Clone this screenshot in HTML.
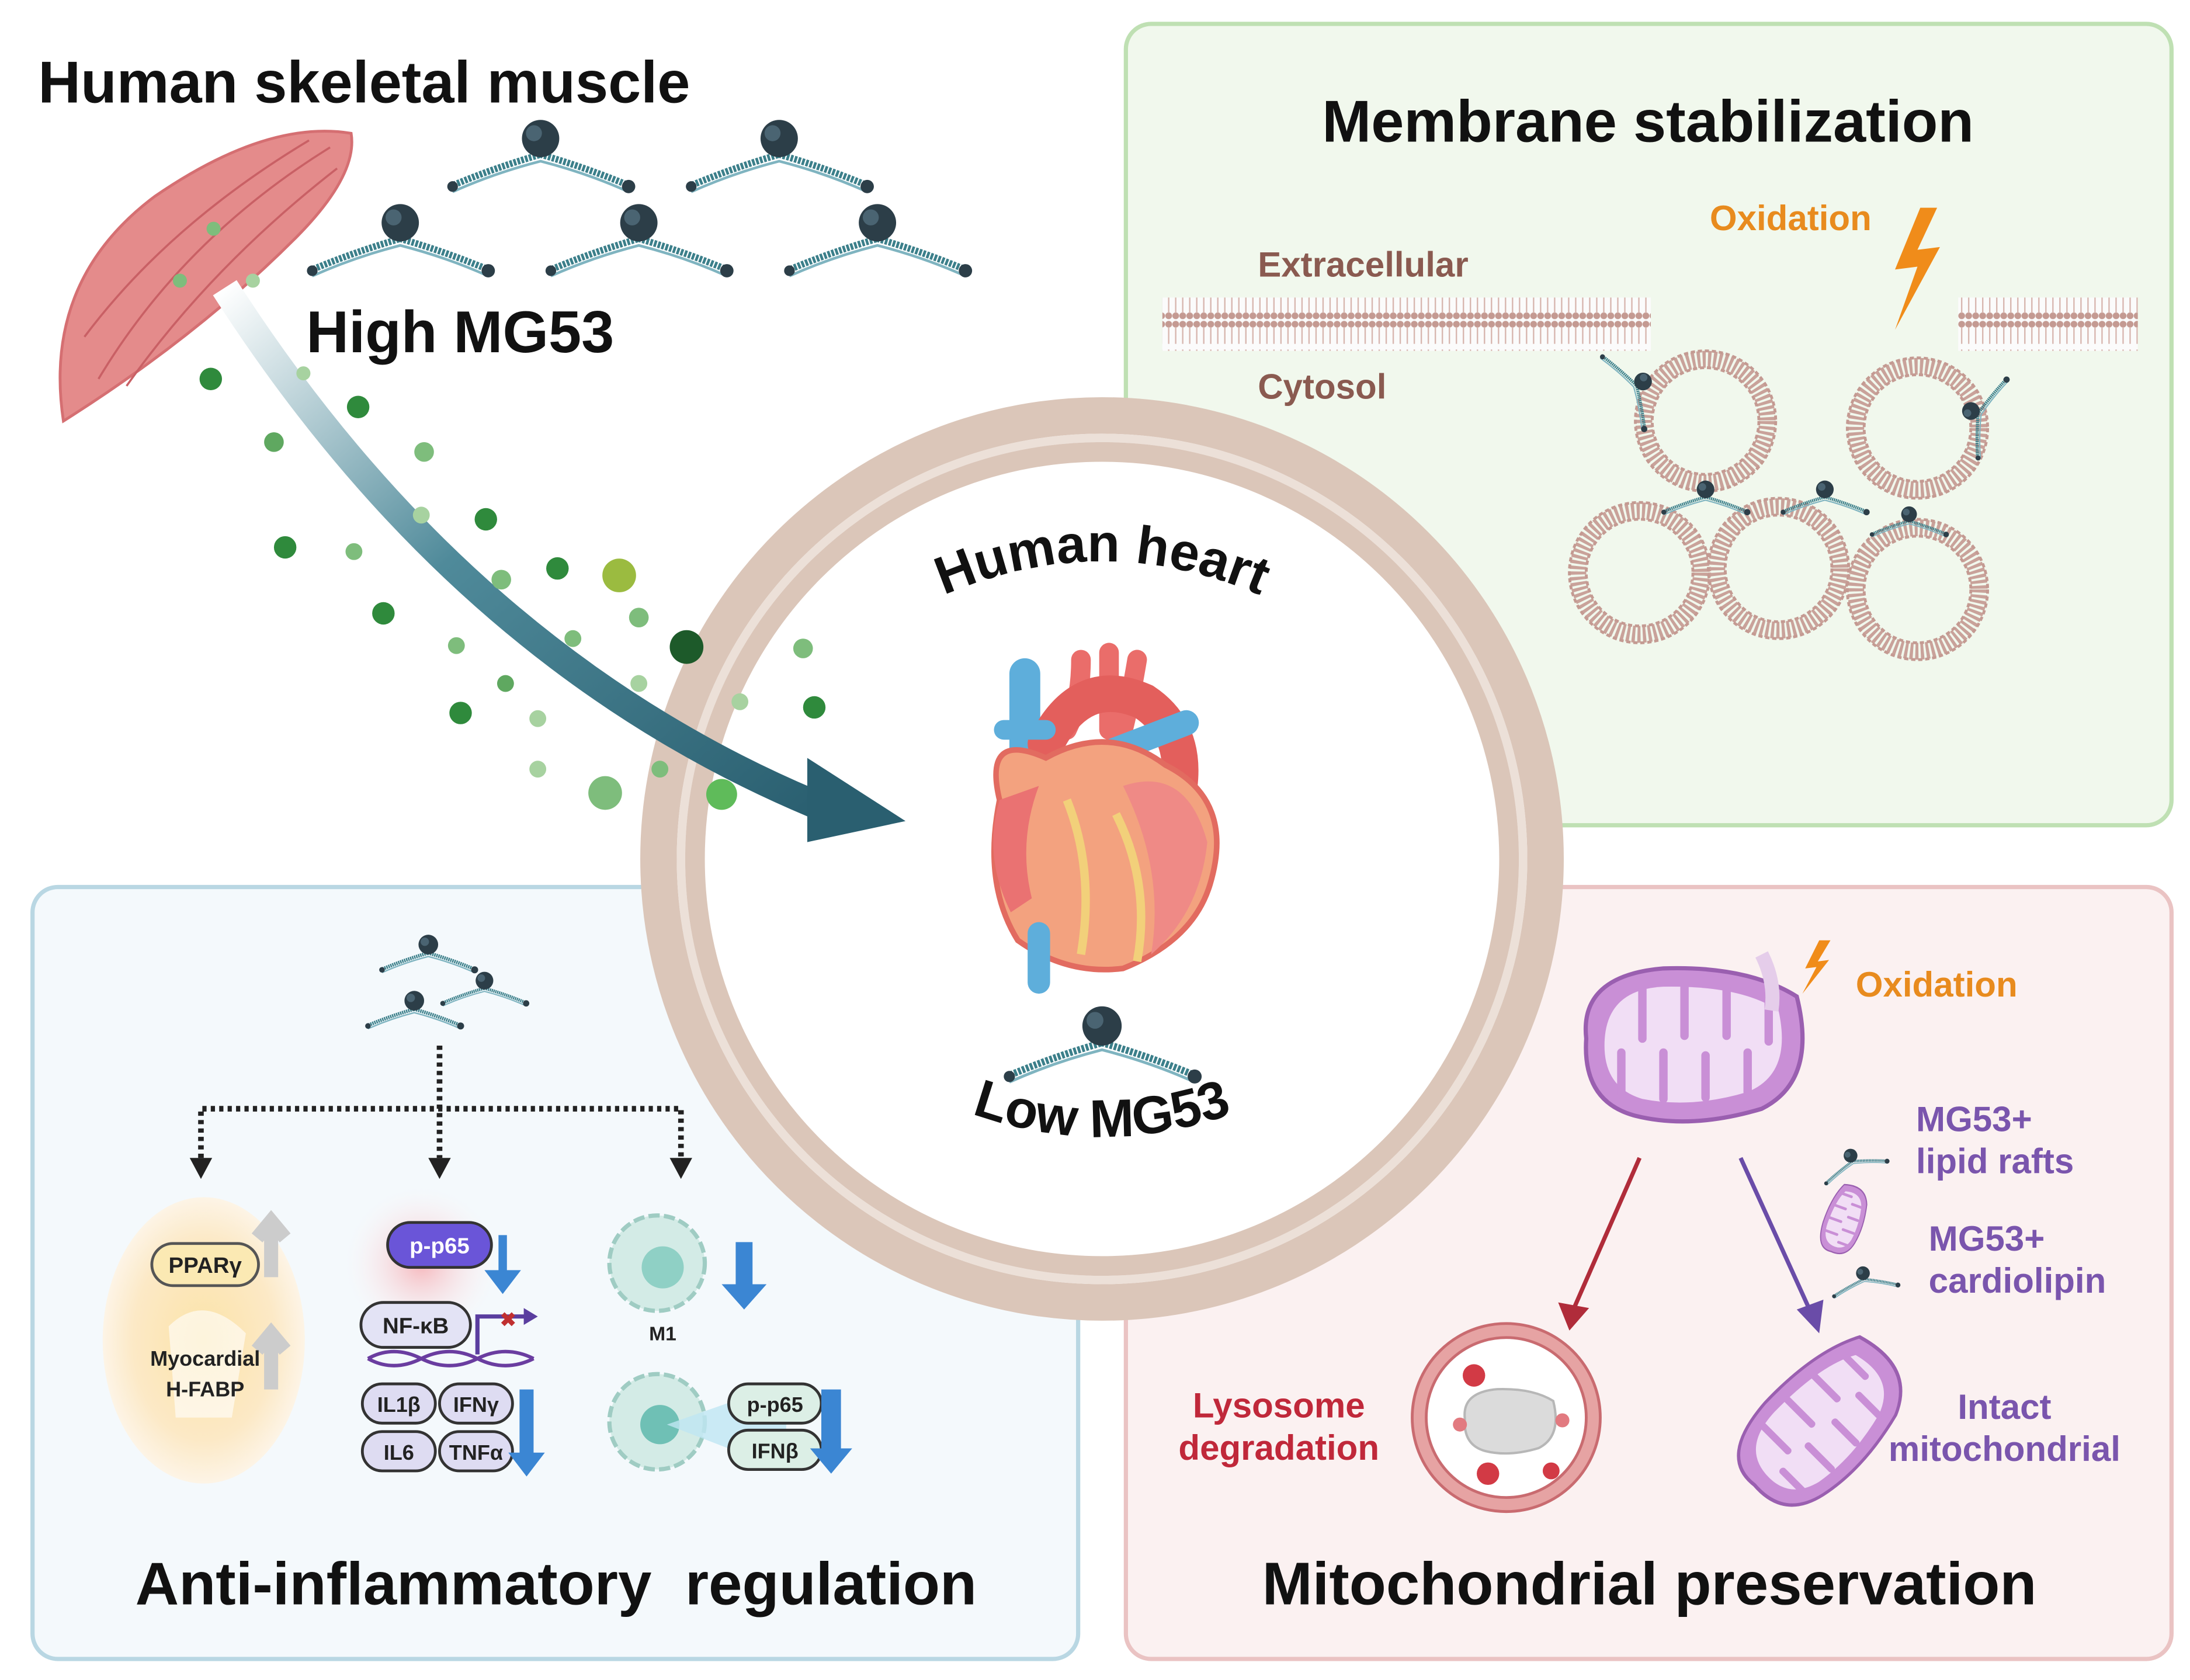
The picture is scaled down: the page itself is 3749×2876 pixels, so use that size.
<!DOCTYPE html>
<html><head><meta charset="utf-8"><style>
html,body{margin:0;padding:0;background:#fff;}
svg{display:block;}
text{font-family:"Liberation Sans",sans-serif;font-weight:bold;}
</style></head><body>
<svg width="3749" height="2876" viewBox="0 0 1560 1197" xmlns="http://www.w3.org/2000/svg">
<defs>
<pattern id="lip" width="5" height="38" patternUnits="userSpaceOnUse">
<rect width="5" height="38" fill="#fbfbfb"/>
<circle cx="2.5" cy="3" r="2.4" fill="#c49a92"/><circle cx="2.5" cy="35" r="2.4" fill="#c49a92"/>
<line x1="2.5" y1="5" x2="2.5" y2="17" stroke="#d8b7b0" stroke-width="1"/>
<line x1="2.5" y1="21" x2="2.5" y2="33" stroke="#d8b7b0" stroke-width="1"/>
</pattern>
<linearGradient id="arr" x1="0" y1="0" x2="1" y2="1">
<stop offset="0" stop-color="#ffffff"/><stop offset="0.45" stop-color="#4f8a9a"/><stop offset="1" stop-color="#2a5f70"/>
</linearGradient>
<radialGradient id="yel"><stop offset="0" stop-color="#fbe3a8"/><stop offset="0.7" stop-color="#fce9c6"/><stop offset="1" stop-color="#fdf4e6"/></radialGradient>
<radialGradient id="redg"><stop offset="0" stop-color="#f6b6bb"/><stop offset="1" stop-color="#fbf3f6" stop-opacity="0"/></radialGradient>
<g id="mg"><path d="M-68,22 Q-35,8 0,-2 Q35,8 68,22" stroke="#3b7f8a" stroke-width="5" fill="none" stroke-dasharray="2 1"/><path d="M-66,26 Q-35,12 0,3 Q35,12 66,26" stroke="#7fb4c0" stroke-width="2" fill="none"/><circle cx="0" cy="-14" r="14" fill="#2c3e48"/><circle cx="-5" cy="-18" r="6" fill="#4a6472"/><circle cx="66" cy="22" r="5" fill="#2c3e48"/><circle cx="-66" cy="22" r="4" fill="#2c3e48"/></g>
<g id="ves"><circle r="44" fill="none" stroke="#c9a29a" stroke-width="12" stroke-dasharray="2.2 1.6"/><circle r="50" fill="none" stroke="#c49a92" stroke-width="2" stroke-dasharray="3 2"/><circle r="38" fill="none" stroke="#c49a92" stroke-width="2" stroke-dasharray="3 2"/></g>
<g id="mito"><path d="M-75,-10 Q-80,-55 -20,-60 Q40,-62 75,-40 Q90,20 50,40 Q0,55 -40,45 Q-78,35 -75,-10Z" fill="#c98fd6" stroke="#9a5fb0" stroke-width="3"/><path d="M-62,-5 Q-62,-45 -20,-47 Q35,-48 62,-30 Q72,15 40,28 Q0,40 -35,33 Q-62,25 -62,-5Z" fill="#f1def5"/><path d="M-50,30 V0 M-35,-45 V-10 M-20,33 V0 M-5,-47 V-12 M10,32 V2 M25,-45 V-12 M40,28 V0 M55,-35 V-8" stroke="#c98fd6" stroke-width="6" stroke-linecap="round"/></g>
</defs>

<rect x="802" y="17" width="745" height="571" rx="18" fill="#f1f8ed" stroke="#bfe0b3" stroke-width="3"/>
<rect x="23" y="632" width="745" height="550" rx="18" fill="#f4f9fc" stroke="#b9d7e3" stroke-width="3"/>
<rect x="802" y="632" width="745" height="550" rx="18" fill="#fbf1f1" stroke="#eac3c3" stroke-width="3"/>

<text x="1174" y="101" font-size="42" text-anchor="middle" fill="#111">Membrane stabilization</text>
<text x="896" y="197" font-size="25" fill="#8a5a50">Extracellular</text>
<text x="896" y="284" font-size="25" fill="#8a5a50">Cytosol</text>
<text x="1218" y="164" font-size="25" fill="#e88b1e">Oxidation</text>
<path d="M1368,148 L1350,192 L1366,190 L1350,235 L1382,176 L1366,178 L1380,148Z" fill="#f08c1a"/>
<rect x="828" y="212" width="348" height="38" fill="url(#lip)"/>
<rect x="1395" y="212" width="128" height="38" fill="url(#lip)"/>
<use href="#ves" x="1215" y="300"/><use href="#ves" x="1366" y="305"/>
<use href="#ves" x="1168" y="408"/><use href="#ves" x="1267" y="405"/><use href="#ves" x="1366" y="420"/>
<g transform="translate(1165,275) rotate(60) scale(0.45)"><use href="#mg"/></g>
<g transform="translate(1410,295) rotate(-70) scale(0.45)"><use href="#mg"/></g>
<g transform="translate(1215,355) scale(0.45)"><use href="#mg"/></g>
<g transform="translate(1300,355) scale(0.45)"><use href="#mg"/></g>
<g transform="translate(1360,372) scale(0.4)"><use href="#mg"/></g>

<circle cx="785" cy="612" r="316" fill="#fff" stroke="#dbc6b9" stroke-width="26"/>
<circle cx="785" cy="612" r="300" fill="none" stroke="#ece0d8" stroke-width="6"/>
<circle cx="785" cy="612" r="290" fill="none" stroke="#dbc6b9" stroke-width="14"/>
<path id="arcT" d="M640,440 Q785,360 930,440" fill="none"/>
<text font-size="38" fill="#111"><textPath href="#arcT" startOffset="50%" text-anchor="middle">Human heart</textPath></text>
<path id="arcB" d="M660,780 Q785,840 910,780" fill="none"/>
<text font-size="38" fill="#111"><textPath href="#arcB" startOffset="50%" text-anchor="middle">Low MG53</textPath></text>
<g transform="translate(785,745) scale(1)"><use href="#mg"/></g>

<g>
<path d="M730,480 V560" stroke="#5eaedb" stroke-width="22" stroke-linecap="round"/>
<path d="M770,470 Q770,500 760,520 M790,465 Q790,495 790,520 M810,470 Q805,500 800,520" stroke="#ea6d6a" stroke-width="14" stroke-linecap="round" fill="none"/>
<path d="M745,530 Q770,480 815,500 Q845,520 840,560" stroke="#e35f5c" stroke-width="26" fill="none" stroke-linecap="round"/>
<path d="M780,540 L845,515" stroke="#5eaedb" stroke-width="18" stroke-linecap="round"/>
<path d="M715,520 L745,520" stroke="#5eaedb" stroke-width="14" stroke-linecap="round"/>
<path d="M712,570 Q700,520 745,540 Q790,515 830,545 Q880,570 862,630 Q850,670 800,690 Q760,695 725,670 Q700,630 712,570Z" fill="#f3a27f" stroke="#e26b60" stroke-width="4"/>
<path d="M712,570 Q700,610 720,650 L735,640 Q725,600 740,560Z" fill="#ea7272"/>
<path d="M800,560 Q845,545 860,600 Q855,650 820,680 Q830,620 800,560Z" fill="#ef8a86"/>
<path d="M760,570 Q780,620 770,680 M795,580 Q820,630 810,685" stroke="#f2d07a" stroke-width="6" fill="none"/>
<path d="M740,665 V700" stroke="#5eaedb" stroke-width="16" stroke-linecap="round"/>
</g>

<text x="27" y="73" font-size="42" fill="#111">Human skeletal muscle</text>
<path d="M45,300 Q30,200 110,140 Q190,85 250,95 Q255,125 210,170 Q140,240 45,300Z" fill="#e48b8b" stroke="#d56f72" stroke-width="2"/>
<path d="M70,270 Q130,170 235,105 M90,275 Q150,190 240,120 M60,240 Q120,160 220,100" stroke="#c96065" stroke-width="1.5" fill="none"/>
<text x="218" y="251" font-size="42" fill="#111">High MG53</text>
<g transform="translate(385,112) scale(0.95)"><use href="#mg"/></g>
<g transform="translate(555,112) scale(0.95)"><use href="#mg"/></g>
<g transform="translate(285,172) scale(0.95)"><use href="#mg"/></g>
<g transform="translate(455,172) scale(0.95)"><use href="#mg"/></g>
<g transform="translate(625,172) scale(0.95)"><use href="#mg"/></g>

<path d="M160,205 Q330,470 585,575" stroke="url(#arr)" stroke-width="20" fill="none"/>
<path d="M575,540 L645,585 L575,600Z" fill="#2a5f70"/>
<g fill="#2f8a3c">
<circle cx="150" cy="270" r="8"/><circle cx="255" cy="290" r="8"/><circle cx="195" cy="315" r="7" fill="#5fa860"/><circle cx="302" cy="322" r="7" fill="#7ebd7c"/>
<circle cx="203" cy="390" r="8"/><circle cx="346" cy="370" r="8"/><circle cx="252" cy="393" r="6" fill="#7ebd7c"/><circle cx="300" cy="367" r="6" fill="#a7d2a0"/>
<circle cx="273" cy="437" r="8"/><circle cx="357" cy="413" r="7" fill="#7ebd7c"/><circle cx="397" cy="405" r="8"/><circle cx="441" cy="410" r="12" fill="#9bbb40"/>
<circle cx="325" cy="460" r="6" fill="#7ebd7c"/><circle cx="408" cy="455" r="6" fill="#7ebd7c"/><circle cx="455" cy="440" r="7" fill="#7ebd7c"/><circle cx="489" cy="461" r="12" fill="#1d5a2a"/>
<circle cx="360" cy="487" r="6" fill="#5fa860"/><circle cx="328" cy="508" r="8"/><circle cx="383" cy="512" r="6" fill="#a7d2a0"/><circle cx="455" cy="487" r="6" fill="#a7d2a0"/>
<circle cx="527" cy="500" r="6" fill="#a7d2a0"/><circle cx="572" cy="462" r="7" fill="#7ebd7c"/><circle cx="580" cy="504" r="8"/><circle cx="383" cy="548" r="6" fill="#a7d2a0"/>
<circle cx="431" cy="565" r="12" fill="#7ebd7c"/><circle cx="470" cy="548" r="6" fill="#7ebd7c"/><circle cx="514" cy="566" r="11" fill="#5fbb5a"/>
<circle cx="128" cy="200" r="5" fill="#7ebd7c"/><circle cx="152" cy="163" r="5" fill="#7ebd7c"/><circle cx="180" cy="200" r="5" fill="#a7d2a0"/><circle cx="216" cy="266" r="5" fill="#a7d2a0"/>
</g>

<g transform="translate(305,680) scale(0.5)"><use href="#mg"/></g>
<g transform="translate(295,720) scale(0.5)"><use href="#mg"/></g>
<g transform="translate(345,705) scale(0.45)"><use href="#mg"/></g>
<g stroke="#222" stroke-width="4" stroke-dasharray="3 3" fill="none">
<path d="M313,745 V825"/><path d="M143,825 V790 H485 V825"/>
</g>
<g fill="#222"><path d="M135,825 H151 L143,840Z"/><path d="M305,825 H321 L313,840Z"/><path d="M477,825 H493 L485,840Z"/></g>
<ellipse cx="145" cy="955" rx="72" ry="102" fill="url(#yel)"/>
<path d="M120,945 Q145,920 175,950 L165,1010 L125,1010Z" fill="#fff" opacity="0.6"/>
<path d="M193,910 V870 M183,882 L193,870 L203,882" stroke="#ccc" stroke-width="10" fill="none"/>
<path d="M193,990 V950 M183,962 L193,950 L203,962" stroke="#ccc" stroke-width="10" fill="none"/>
<rect x="108" y="886" width="76" height="30" rx="15" fill="#fbe9b3" stroke="#555" stroke-width="2"/>
<text x="146" y="907" font-size="16" text-anchor="middle" fill="#222">PPARγ</text>
<text x="146" y="973" font-size="15" text-anchor="middle" fill="#222">Myocardial</text>
<text x="146" y="995" font-size="15" text-anchor="middle" fill="#222">H-FABP</text>
<circle cx="300" cy="900" r="55" fill="url(#redg)"/>
<rect x="276" y="871" width="74" height="32" rx="16" fill="#6a55d8" stroke="#333" stroke-width="2"/>
<text x="313" y="893" font-size="16" text-anchor="middle" fill="#fff">p-p65</text>
<path d="M355,880 V905 H345 L358,922 L371,905 H361 V880Z" fill="#3b86d3"/>
<rect x="257" y="928" width="78" height="32" rx="16" fill="#e3e3f5" stroke="#333" stroke-width="2"/>
<text x="296" y="950" font-size="16" text-anchor="middle" fill="#222">NF-κB</text>
<path d="M262,968 Q280,958 300,968 T340,968 T380,968 M262,968 Q280,978 300,968 T340,968 T380,968" stroke="#6a3da0" stroke-width="2.5" fill="none"/>
<path d="M340,965 V938 H375" stroke="#5a3e9f" stroke-width="3" fill="none"/><path d="M373,932 L383,938 L373,944Z" fill="#5a3e9f"/>
<text x="356" y="945" font-size="14" fill="#c03030">✖</text>
<g fill="#dedcf2" stroke="#333" stroke-width="2"><rect x="258" y="986" width="52" height="28" rx="14"/><rect x="313" y="986" width="52" height="28" rx="14"/><rect x="258" y="1020" width="52" height="28" rx="14"/><rect x="313" y="1020" width="52" height="28" rx="14"/></g>
<g font-size="15" text-anchor="middle" fill="#222"><text x="284" y="1006">IL1β</text><text x="339" y="1006">IFNγ</text><text x="284" y="1040">IL6</text><text x="339" y="1040">TNFα</text></g>
<path d="M370,990 V1035 H362 L375,1052 L388,1035 H380 V990Z" fill="#3b86d3"/>
<circle cx="468" cy="900" r="34" fill="#d3ebe6" stroke="#9fccc3" stroke-width="3" stroke-dasharray="8 3"/><circle cx="472" cy="903" r="15" fill="#8fd0c5"/>
<text x="472" y="955" font-size="14" text-anchor="middle" fill="#222">M1</text>
<path d="M524,885 V915 H514 L530,933 L546,915 H536 V885Z" fill="#3b86d3"/>
<circle cx="468" cy="1013" r="34" fill="#d3ebe6" stroke="#9fccc3" stroke-width="3" stroke-dasharray="8 3"/><circle cx="470" cy="1015" r="14" fill="#6fc0b5"/>
<path d="M475,1015 L560,985 L560,1048Z" fill="#bfe6f2" opacity="0.8"/>
<rect x="519" y="986" width="66" height="28" rx="14" fill="#dcefe6" stroke="#333" stroke-width="2"/>
<rect x="519" y="1019" width="66" height="28" rx="14" fill="#dcefe6" stroke="#333" stroke-width="2"/>
<text x="552" y="1006" font-size="15" text-anchor="middle" fill="#222">p-p65</text>
<text x="552" y="1039" font-size="15" text-anchor="middle" fill="#222">IFNβ</text>
<path d="M585,990 V1032 H577 L592,1050 L607,1032 H599 V990Z" fill="#3b86d3"/>
<text x="396" y="1143" font-size="43" text-anchor="middle" fill="#111" xml:space="preserve">Anti-inflammatory  regulation</text>

<use href="#mito" x="1205" y="750"/>
<path d="M1255,680 Q1265,700 1262,720" stroke="#e5cdea" stroke-width="10" fill="none"/>
<path d="M1296,670 L1286,690 L1294,689 L1284,708 L1303,684 L1295,685 L1304,670Z" fill="#f08c1a"/>
<text x="1322" y="710" font-size="25" fill="#e88b1e">Oxidation</text>
<path d="M1168,825 L1120,935" stroke="#b02c3a" stroke-width="3"/><path d="M1110,928 L1118,948 L1132,932Z" fill="#b02c3a"/>
<path d="M1240,825 L1290,935" stroke="#6a4ca8" stroke-width="3"/><path d="M1280,933 L1296,950 L1299,926Z" fill="#6a4ca8"/>
<circle cx="1073" cy="1010" r="62" fill="#fff" stroke="#e6a3a3" stroke-width="10"/>
<circle cx="1073" cy="1010" r="67" fill="none" stroke="#c96b70" stroke-width="2"/>
<circle cx="1073" cy="1010" r="57" fill="none" stroke="#c96b70" stroke-width="2"/>
<g transform="translate(1075,1015) scale(0.42)" opacity="0.7"><path d="M-75,-10 Q-80,-55 -20,-60 Q40,-62 75,-40 Q90,20 50,40 Q0,55 -40,45 Q-78,35 -75,-10Z" fill="#ccc" stroke="#999" stroke-width="4"/></g>
<g fill="#d23a45"><circle cx="1050" cy="980" r="8"/><circle cx="1105" cy="1048" r="6"/><circle cx="1060" cy="1050" r="8"/><circle cx="1040" cy="1015" r="5" fill="#e27a80"/><circle cx="1113" cy="1012" r="5" fill="#e27a80"/></g>
<text x="911" y="1010" font-size="25" text-anchor="middle" fill="#c0283a">Lysosome</text>
<text x="911" y="1040" font-size="25" text-anchor="middle" fill="#c0283a">degradation</text>
<g transform="translate(1300,1018) rotate(-45) scale(0.85,0.72)"><use href="#mito"/></g>
<text x="1428" y="1011" font-size="25" text-anchor="middle" fill="#7a55ad">Intact</text>
<text x="1428" y="1041" font-size="25" text-anchor="middle" fill="#7a55ad">mitochondrial</text>
<g transform="translate(1320,828) rotate(-20) scale(0.35)"><use href="#mg"/></g>
<g transform="translate(1315,870) rotate(-70) scale(0.32,0.25)"><use href="#mito"/></g>
<g transform="translate(1328,912) rotate(-10) scale(0.35)"><use href="#mg"/></g>
<text x="1365" y="806" font-size="25" fill="#7a55ad">MG53+</text>
<text x="1365" y="836" font-size="25" fill="#7a55ad">lipid rafts</text>
<text x="1374" y="891" font-size="25" fill="#7a55ad">MG53+</text>
<text x="1374" y="921" font-size="25" fill="#7a55ad">cardiolipin</text>
<text x="1175" y="1143" font-size="43" text-anchor="middle" fill="#111">Mitochondrial preservation</text>
</svg>
</body></html>
